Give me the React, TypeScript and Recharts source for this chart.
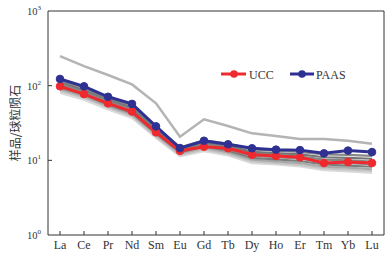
import React from 'react';
import { LineChart, Line, XAxis, YAxis } from 'recharts';

const elements = ['La', 'Ce', 'Pr', 'Nd', 'Sm', 'Eu', 'Gd', 'Tb', 'Dy', 'Ho', 'Er', 'Tm', 'Yb', 'Lu'];
const yTicks = [1, 10, 100, 1000];

const ucc = [98, 77, 58, 45, 23.7, 13.4, 15.2, 14.5, 11.9, 11.4, 11.0, 9.2, 9.5, 9.2];
const paas = [123, 98, 71, 57, 28.5, 14.6, 18.3, 16.4, 14.5, 13.9, 13.7, 12.4, 13.5, 12.9];

const sampleHigh = [248, 183, 139, 104, 58, 20.7, 35.4, 28.8, 23, 21.2, 19.3, 19.3, 18.3, 16.7];
const sample1 = [118, 93, 69, 54, 27.5, 15, 18.5, 16.8, 14, 13.5, 13, 12, 11.8, 11.5];
const sample2 = [112, 88, 66, 51, 26, 14.2, 17.5, 15.8, 13, 12.5, 12, 11, 10.8, 10.5];
const sample3 = [105, 84, 63, 49, 25, 13.8, 17, 15, 12.3, 11.8, 11.2, 10.2, 10, 9.6];
const sample4 = [100, 80, 60, 46, 24, 13.2, 16.2, 14.2, 11.5, 11, 10.5, 9.4, 9.2, 8.8];
const sample5 = [95, 76, 56, 43, 23, 12.8, 15.5, 13.5, 10.8, 10.3, 9.8, 8.8, 8.5, 8.2];
const sample6 = [90, 72, 53, 41, 22, 12.3, 14.8, 12.8, 10.2, 9.7, 9.2, 8.2, 8.0, 7.6];
const sample7 = [85, 69, 51, 39, 21, 11.8, 14, 12.2, 9.7, 9.2, 8.7, 7.8, 7.5, 7.2];
const sample8 = [80, 65, 48, 37, 20, 11.3, 13.3, 11.6, 9.2, 8.8, 8.3, 7.4, 7.1, 6.8];

const samples = [sample8, sample7, sample6, sample5, sample4, sample3, sample2, sample1];
const sampleColors = ['#dadada', '#c4c4c4', '#a8a8a8', '#7c7c7c', '#909090', '#858585', '#767676', '#888888'];

const data = elements.map((el, i) => {
  const row: any = { el, ucc: ucc[i], paas: paas[i], high: sampleHigh[i] };
  samples.forEach((s, k) => { row['s' + k] = s[i]; });
  return row;
});

const AXIS = '#333';
const RED = '#ee2a2f';
const BLUE = '#2e3192';
const SERIF = '"Liberation Serif", "Times New Roman", serif';

const YTick = (props: any) => {
  const { x, y, payload } = props;
  const exp = Math.round(Math.log10(payload.value));
  return (
    <g>
      {payload.value !== 1 && payload.value !== 1000 && (
        <line x1={x + 6} x2={x + 10} y1={y} y2={y} stroke={AXIS} strokeWidth={1} />
      )}
      <text x={x - 1} y={y} dy={4} textAnchor="end" fontSize={10.5} fill={AXIS} fontFamily={SERIF}>
        10<tspan dy={-5} fontSize={7}>{exp}</tspan>
      </text>
    </g>
  );
};

const XTick = (props: any) => {
  const { x, y, payload } = props;
  return (
    <g>
      <line x1={x} x2={x} y1={y - 5} y2={y - 9} stroke={AXIS} strokeWidth={1} />
      <text x={x} y={y} dy="0.71em" textAnchor="middle" fontSize={12} fill={AXIS} fontFamily={SERIF}>
        {payload.value}
      </text>
    </g>
  );
};

export default function App() {
  return (
    <div style={{ position: 'absolute', left: 0, top: 0, width: 392, height: 261, background: '#fff' }}>
      <LineChart width={392} height={261} data={data} margin={{ top: 10, right: 7, bottom: 0, left: 0 }}>
        <XAxis
          dataKey="el"
          height={26}
          padding={{ left: 12, right: 12 }}
          interval={0}
          tickSize={0}
          tickMargin={5}
          tickLine={false}
          axisLine={{ stroke: AXIS, strokeWidth: 1 }}
          tick={<XTick />}
        />
        <XAxis
          xAxisId="top"
          dataKey="el"
          orientation="top"
          height={1}
          tick={false}
          tickLine={false}
          axisLine={{ stroke: AXIS, strokeWidth: 1 }}
        />
        <YAxis
          scale="log"
          domain={[1, 1000]}
          ticks={yTicks}
          width={48}
          tickSize={0}
          tickMargin={6}
          tickLine={false}
          axisLine={{ stroke: AXIS, strokeWidth: 1 }}
          tick={<YTick />}
          allowDataOverflow
        />
        <YAxis
          yAxisId="right"
          orientation="right"
          width={1}
          tick={false}
          tickLine={false}
          axisLine={{ stroke: AXIS, strokeWidth: 1 }}
        />
        {samples.map((_, k) => (
          <Line
            key={k}
            dataKey={'s' + k}
            stroke={sampleColors[k]}
            strokeWidth={2.2}
            dot={false}
            isAnimationActive={false}
          />
        ))}
        <Line dataKey="high" stroke="#b4b4b4" strokeWidth={2.5} dot={false} isAnimationActive={false} />
        <Line
          dataKey="ucc"
          stroke={RED}
          strokeWidth={3}
          dot={{ r: 3.8, fill: RED, stroke: RED, strokeWidth: 1 }}
          isAnimationActive={false}
        />
        <Line
          dataKey="paas"
          stroke={BLUE}
          strokeWidth={3}
          dot={{ r: 3.8, fill: BLUE, stroke: BLUE, strokeWidth: 1 }}
          isAnimationActive={false}
        />
      </LineChart>
      <svg width={392} height={261} style={{ position: 'absolute', left: 0, top: 0, pointerEvents: 'none' }}>
        <text
          x={0}
          y={0}
          transform="translate(20,123) rotate(-90)"
          textAnchor="middle"
          fontSize={12}
          fill={AXIS}
          fontFamily='"Noto Sans CJK SC", sans-serif'
        >
          样品/球粒陨石
        </text>
        <line x1={221} x2={246} y1={74} y2={74} stroke={RED} strokeWidth={3} />
        <circle cx={234} cy={74} r={3.8} fill={RED} />
        <text x={249} y={78.5} fontSize={12} fill={AXIS} fontFamily={SERIF}>UCC</text>
        <line x1={290} x2={314} y1={74} y2={74} stroke={BLUE} strokeWidth={3} />
        <circle cx={302} cy={74} r={3.8} fill={BLUE} />
        <text x={316} y={78.5} fontSize={12} fill={AXIS} fontFamily={SERIF}>PAAS</text>
      </svg>
    </div>
  );
}
